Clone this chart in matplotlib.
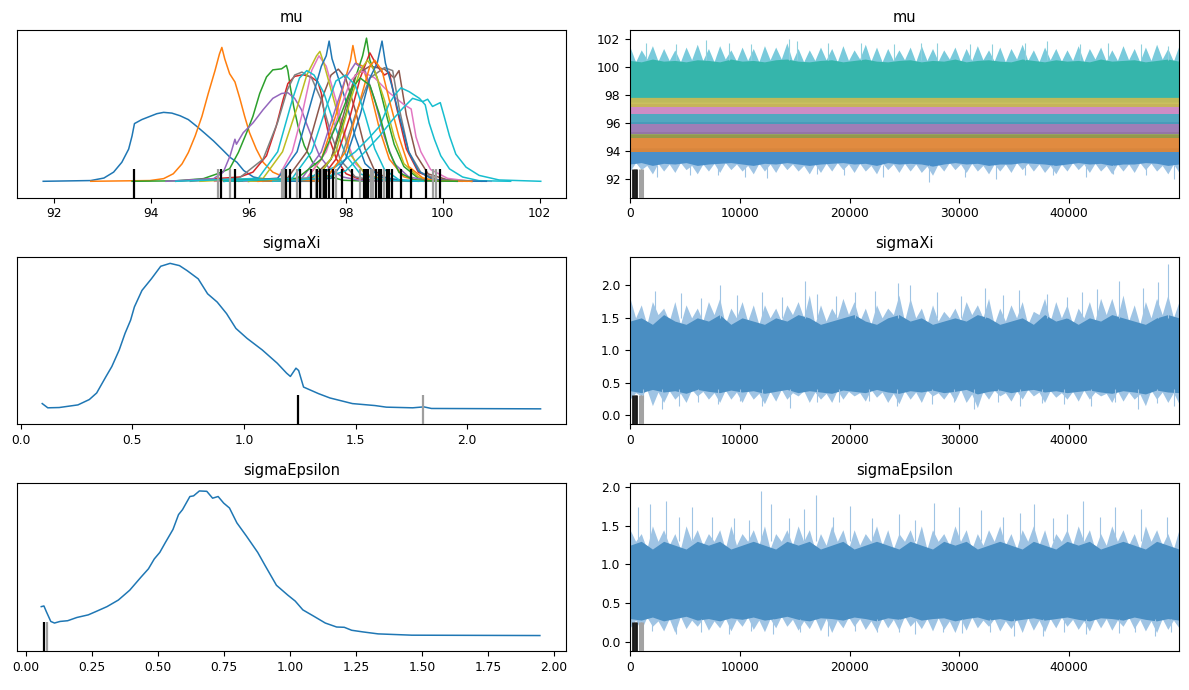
import numpy as np
import matplotlib
matplotlib.use("Agg")
import matplotlib.pyplot as plt
from matplotlib.transforms import blended_transform_factory

# ------------------------------------------------------------------ data
panel_titles = ["mu", "sigmaXi", "sigmaEpsilon"]

# --- mu: one KDE curve per component (x, density)
mu_curve_colors = ["C0", "C1", "C2", "C3", "C4", "C5", "C6", "C7", "C8", "C9",
                   "C0", "C1", "C2", "C3", "C4", "C5", "C6", "C7", "C8", "C9",
                   "C0", "C1", "C2", "C9", "C9"]
mu_curve_x = [
    [91.77, 92.75, 93.02, 93.22, 93.39, 93.53, 93.60, 93.65, 93.70, 93.80, 93.97, 94.11, 94.25, 94.42,
     94.59, 94.76, 94.93, 95.10, 95.28, 95.45, 95.62, 95.76, 95.90, 96.10, 96.50, 97.00, 97.60],
    [92.75, 93.97, 94.25, 94.45, 94.63, 94.76, 94.90, 95.04, 95.17, 95.31, 95.40, 95.45, 95.51, 95.61,
     95.72, 95.82, 95.92, 96.02, 96.16, 96.30, 96.50, 96.78, 97.11, 97.60],
    [93.60, 94.50, 95.07, 95.35, 95.61, 95.79, 95.96, 96.09, 96.23, 96.37, 96.50, 96.68, 96.78, 96.81,
     96.86, 96.93, 97.02, 97.15, 97.32, 97.60, 97.94, 98.50],
    [94.50, 95.82, 96.09, 96.37, 96.57, 96.71, 96.81, 96.95, 97.12, 97.29, 97.43, 97.50, 97.57, 97.67,
     97.81, 98.01, 98.29, 98.80],
    [94.30, 95.28, 95.48, 95.62, 95.72, 95.75, 95.89, 96.09, 96.30, 96.50, 96.68, 96.81, 96.95, 97.09,
     97.19, 97.32, 97.46, 97.67, 97.94, 98.29, 98.80],
    [95.5, 96.8, 97.2, 97.5, 97.7, 97.85, 98.0, 98.2, 98.4, 98.6, 98.9, 99.8],
    [95.3, 96.6, 96.9, 97.1, 97.3, 97.45, 97.6, 97.8, 98.0, 98.2, 98.5, 98.9, 99.6],
    [94.8, 95.8, 96.3, 96.6, 96.8, 96.95, 97.1, 97.3, 97.5, 97.7, 97.9, 98.2, 98.6, 99.3],
    [95.0, 96.3, 96.7, 97.0, 97.2, 97.4, 97.47, 97.55, 97.7, 97.9, 98.1, 98.4, 98.8, 99.5],
    [94.5, 96.2, 96.6, 96.9, 97.05, 97.2, 97.35, 97.55, 97.75, 98.0, 98.3, 98.7, 99.5],
    [95.5, 96.6, 97.0, 97.3, 97.5, 97.6, 97.66, 97.72, 97.85, 98.0, 98.2, 98.4, 98.7, 99.2, 100.0],
    [95.8, 97.2, 97.5, 97.8, 98.0, 98.1, 98.15, 98.22, 98.35, 98.5, 98.7, 98.9, 99.2, 99.5, 100.3],
    [96.0, 97.4, 97.7, 98.0, 98.2, 98.35, 98.43, 98.5, 98.65, 98.8, 99.0, 99.2, 99.5, 99.8, 100.6],
    [96.0, 97.5, 97.8, 98.1, 98.3, 98.5, 98.65, 98.8, 98.9, 99.05, 99.25, 99.5, 99.9, 100.6],
    [95.8, 97.1, 97.5, 97.8, 98.0, 98.2, 98.4, 98.6, 98.8, 99.0, 99.3, 99.7, 100.4],
    [96.0, 97.3, 97.7, 98.0, 98.2, 98.5, 98.8, 99.0, 99.1, 99.25, 99.45, 99.7, 100.1, 100.8],
    [95.9, 97.2, 97.6, 97.9, 98.1, 98.3, 98.6, 98.9, 99.2, 99.35, 99.45, 99.55, 99.75, 100.1, 100.5, 101.0],
    [96.2, 97.6, 97.9, 98.2, 98.5, 98.8, 98.97, 99.1, 99.3, 99.55, 99.9, 100.6],
    [96.0, 97.4, 97.8, 98.1, 98.3, 98.45, 98.6, 98.8, 99.0, 99.2, 99.5, 99.8, 100.5],
    [95.5, 97.2, 97.8, 98.2, 98.5, 98.70, 98.90, 99.04, 99.14, 99.31, 99.52, 99.64, 99.72, 99.83,
     99.96, 100.14, 100.41, 100.75, 101.4],
    [96.3, 97.7, 98.0, 98.3, 98.5, 98.65, 98.75, 98.82, 98.95, 99.1, 99.3, 99.5, 99.8, 100.2, 100.9],
    [96.2, 97.6, 98.0, 98.3, 98.5, 98.6, 98.75, 98.9, 99.1, 99.3, 99.6, 99.9, 100.6],
    [95.5, 97.0, 97.5, 97.9, 98.1, 98.3, 98.5, 98.7, 98.9, 99.1, 99.4, 99.8, 100.3],
    [95.5, 96.9, 97.3, 97.6, 97.8, 98.0, 98.2, 98.4, 98.6, 98.8, 99.1, 99.6],
    [96.5, 97.5, 98.0, 98.4, 98.70, 98.97, 99.18, 99.38, 99.59, 99.69, 99.79, 99.95, 100.03, 100.14,
     100.27, 100.48, 100.75, 101.16, 102.02],
]
mu_curve_h = [
    [0, 0.005, 0.022, 0.062, 0.129, 0.218, 0.307, 0.391, 0.400, 0.418, 0.440, 0.458, 0.467, 0.462,
     0.444, 0.418, 0.373, 0.325, 0.273, 0.218, 0.162, 0.129, 0.073, 0.029, 0.003, 0, 0],
    [0, 0.005, 0.018, 0.051, 0.118, 0.195, 0.307, 0.440, 0.595, 0.751, 0.862, 0.907, 0.829, 0.729,
     0.673, 0.562, 0.440, 0.329, 0.218, 0.129, 0.062, 0.022, 0.005, 0],
    [0, 0.003, 0.018, 0.050, 0.085, 0.195, 0.329, 0.440, 0.595, 0.707, 0.755, 0.762, 0.785, 0.751,
     0.640, 0.507, 0.373, 0.240, 0.129, 0.040, 0.007, 0],
    [0, 0.029, 0.062, 0.173, 0.373, 0.551, 0.662, 0.711, 0.722, 0.707, 0.673, 0.595, 0.440, 0.285,
     0.151, 0.051, 0.013, 0],
    [0, 0.018, 0.062, 0.173, 0.285, 0.251, 0.329, 0.395, 0.485, 0.562, 0.595, 0.600, 0.562, 0.485,
     0.395, 0.285, 0.173, 0.085, 0.029, 0.007, 0],
    [0, 0.02, 0.2, 0.55, 0.72, 0.76, 0.7, 0.48, 0.22, 0.07, 0.01, 0],
    [0, 0.02, 0.2, 0.45, 0.75, 0.85, 0.78, 0.55, 0.3, 0.12, 0.03, 0.005, 0],
    [0, 0.02, 0.15, 0.4, 0.62, 0.72, 0.74, 0.7, 0.55, 0.32, 0.14, 0.03, 0.005, 0],
    [0, 0.02, 0.2, 0.5, 0.72, 0.85, 0.88, 0.8, 0.62, 0.38, 0.18, 0.05, 0.01, 0],
    [0, 0.02, 0.2, 0.55, 0.7, 0.75, 0.72, 0.6, 0.4, 0.18, 0.05, 0.01, 0],
    [0, 0.02, 0.2, 0.55, 0.78, 0.85, 0.95, 0.83, 0.7, 0.55, 0.3, 0.12, 0.03, 0.005, 0],
    [0, 0.02, 0.15, 0.45, 0.7, 0.82, 0.92, 0.8, 0.78, 0.62, 0.35, 0.15, 0.03, 0.005, 0],
    [0, 0.02, 0.15, 0.45, 0.7, 0.85, 0.97, 0.82, 0.7, 0.5, 0.25, 0.1, 0.02, 0.005, 0],
    [0, 0.02, 0.15, 0.45, 0.7, 0.87, 0.78, 0.72, 0.74, 0.5, 0.22, 0.06, 0.01, 0],
    [0, 0.02, 0.2, 0.5, 0.7, 0.8, 0.75, 0.55, 0.3, 0.12, 0.03, 0.005, 0],
    [0, 0.02, 0.15, 0.5, 0.72, 0.78, 0.76, 0.7, 0.75, 0.45, 0.18, 0.05, 0.01, 0],
    [0, 0.02, 0.2, 0.5, 0.68, 0.75, 0.7, 0.6, 0.52, 0.49, 0.3, 0.2, 0.08, 0.02, 0.003, 0],
    [0, 0.02, 0.15, 0.45, 0.7, 0.77, 0.75, 0.5, 0.2, 0.06, 0.01, 0],
    [0, 0.02, 0.2, 0.55, 0.75, 0.82, 0.75, 0.55, 0.3, 0.12, 0.03, 0.005, 0],
    [0, 0.02, 0.1, 0.2, 0.3, 0.373, 0.529, 0.596, 0.633, 0.607, 0.562, 0.518, 0.396, 0.284,
     0.173, 0.084, 0.029, 0.004, 0],
    [0, 0.02, 0.15, 0.45, 0.7, 0.8, 0.95, 0.8, 0.65, 0.45, 0.2, 0.07, 0.01, 0.002, 0],
    [0, 0.02, 0.2, 0.55, 0.78, 0.82, 0.75, 0.55, 0.3, 0.1, 0.02, 0.003, 0],
    [0, 0.02, 0.15, 0.45, 0.62, 0.7, 0.65, 0.45, 0.2, 0.06, 0.01, 0.002, 0],
    [0, 0.02, 0.2, 0.5, 0.68, 0.72, 0.65, 0.45, 0.22, 0.08, 0.01, 0],
    [0, 0.02, 0.07, 0.2, 0.307, 0.418, 0.496, 0.562, 0.540, 0.556, 0.507, 0.533, 0.440, 0.307,
     0.184, 0.096, 0.040, 0.009, 0],
]
mu_div_black = [93.63, 95.44, 95.72, 96.78, 96.85, 97.05, 97.29, 97.42, 97.47, 97.55, 97.60, 97.65,
                97.74, 97.93, 98.13, 98.38, 98.43, 98.47, 98.62, 98.68, 98.73, 98.85, 98.90, 98.95,
                99.15, 99.35, 99.66, 99.95]
mu_div_gray = [95.37, 95.62, 96.68, 96.73, 97.00, 97.38, 97.52, 97.80, 98.30, 98.52, 98.57, 98.80,
               99.80, 99.86]

# --- sigmaXi KDE
sigxi_x = [0.096, 0.121, 0.172, 0.256, 0.307, 0.340, 0.382, 0.408, 0.441, 0.467, 0.492, 0.509, 0.543,
           0.585, 0.627, 0.669, 0.711, 0.745, 0.795, 0.837, 0.880, 0.922, 0.964, 1.014, 1.082, 1.149,
           1.191, 1.208, 1.233, 1.245, 1.267, 1.334, 1.385, 1.486, 1.587, 1.638, 1.756, 1.806, 1.840, 2.329]
sigxi_h = [0.056, 0.011, 0.014, 0.042, 0.099, 0.169, 0.345, 0.451, 0.627, 0.803, 0.944, 1.085, 1.261,
           1.384, 1.518, 1.549, 1.525, 1.472, 1.384, 1.225, 1.137, 1.014, 0.856, 0.750, 0.627, 0.486,
           0.380, 0.345, 0.433, 0.408, 0.232, 0.162, 0.116, 0.056, 0.035, 0.018, 0.011, 0.021, 0.004, 0.0]
sigxi_div_black = [1.24]
sigxi_div_gray = [1.80]

# --- sigmaEpsilon KDE
sigeps_x = [0.057, 0.067, 0.076, 0.093, 0.107, 0.128, 0.157, 0.192, 0.235, 0.264, 0.306, 0.349, 0.392,
            0.435, 0.463, 0.485, 0.506, 0.527, 0.556, 0.577, 0.592, 0.606, 0.620, 0.634, 0.656, 0.684,
            0.706, 0.727, 0.748, 0.770, 0.798, 0.834, 0.877, 0.905, 0.948, 0.991, 1.019, 1.048, 1.091,
            1.133, 1.176, 1.205, 1.233, 1.276, 1.333, 1.461, 1.946]
sigeps_h = [0.400, 0.409, 0.332, 0.195, 0.173, 0.195, 0.205, 0.250, 0.286, 0.332, 0.400, 0.491, 0.627,
            0.809, 0.923, 1.059, 1.150, 1.286, 1.468, 1.673, 1.741, 1.832, 1.923, 1.932, 2.000, 1.995,
            1.900, 1.923, 1.832, 1.764, 1.559, 1.377, 1.150, 0.968, 0.695, 0.559, 0.477, 0.355, 0.264,
            0.173, 0.118, 0.114, 0.073, 0.050, 0.023, 0.005, 0.0]
sigeps_div_black = [0.066]
sigeps_div_gray = [0.080]

# --- traces: envelopes read at 50 evenly spaced draws
n_draws = 50000
draws = np.linspace(0, n_draws - 1, 50)
trace_div_black = [230, 590]
trace_div_dark = [440]
trace_div_gray = [930, 1070]

mu_light_hi = [101.4, 101.2, 101.5, 101.3, 101.2, 101.4, 101.6, 101.3, 101.5, 101.2,
               101.4, 101.3, 101.5, 101.4, 101.7, 101.3, 101.2, 101.4, 101.3, 101.5,
               101.2, 101.6, 101.4, 101.3, 101.2, 101.4, 101.5, 101.3, 101.2, 101.4,
               101.3, 101.5, 101.2, 101.4, 101.3, 101.6, 101.2, 101.4, 101.3, 101.2,
               101.5, 101.3, 101.4, 101.2, 101.5, 101.3, 101.4, 101.6, 101.3, 101.5]
mu_dense_hi = [100.45, 100.35, 100.55, 100.40, 100.45, 100.35, 100.50, 100.45, 100.35, 100.55,
               100.40, 100.45, 100.35, 100.50, 100.55, 100.40, 100.35, 100.45, 100.50, 100.35,
               100.45, 100.55, 100.40, 100.35, 100.45, 100.50, 100.35, 100.45, 100.40, 100.55,
               100.35, 100.45, 100.50, 100.40, 100.35, 100.55, 100.45, 100.35, 100.50, 100.40,
               100.45, 100.35, 100.55, 100.40, 100.45, 100.50, 100.35, 100.45, 100.55, 100.40]
mu_dense_lo = [93.10, 93.20, 93.00, 93.15, 93.10, 93.20, 93.00, 93.10, 93.15, 93.20,
               93.10, 93.00, 93.15, 93.10, 93.20, 93.10, 93.00, 93.10, 93.15, 93.20,
               93.10, 93.15, 93.00, 93.20, 93.10, 93.15, 93.10, 92.95, 93.10, 93.20,
               93.10, 93.15, 93.00, 93.10, 93.10, 93.20, 93.15, 93.10, 93.00, 93.10,
               93.20, 93.10, 93.15, 93.00, 93.10, 93.10, 93.20, 93.15, 93.00, 93.10]
mu_light_lo = [92.6, 92.7, 92.4, 92.6, 92.5, 92.7, 92.4, 92.6, 92.5, 92.7,
               92.6, 92.4, 92.6, 92.5, 92.7, 92.6, 92.4, 92.5, 92.6, 92.7,
               92.5, 92.6, 92.4, 92.7, 92.5, 92.6, 92.5, 92.3, 92.6, 92.7,
               92.5, 92.6, 92.4, 92.6, 92.5, 92.7, 92.6, 92.5, 92.4, 92.6,
               92.7, 92.5, 92.6, 92.4, 92.6, 92.5, 92.7, 92.6, 92.4, 92.5]
mu_band_lo = [93.98, 94.95, 95.26, 95.96, 96.66, 97.13]
mu_band_hi = [95.14, 95.40, 96.08, 96.66, 97.36, 97.94]
mu_band_colors = ["#e9852e", "#8a9a4e", "#9470b0", "#3f9fba", "#c980bf", "#c6b94c"]
mu_spike_up_x = [1500, 4200, 6900, 9000, 11000, 14500, 15200, 18000, 21000, 24000, 26500, 28000,
                 31000, 33000, 36000, 38000, 41000, 43500, 46500, 49000]
mu_spike_up_y = [101.7, 101.6, 101.9, 101.7, 101.6, 102.0, 101.8, 101.7, 101.7, 101.6, 101.7, 101.7,
                 101.6, 101.6, 101.7, 101.8, 101.6, 101.7, 101.6, 101.5]
mu_spike_dn_x = [2500, 5500, 8000, 10500, 12500, 17000, 19500, 23000, 27200, 30500, 33300, 36000,
                 38500, 41500, 44000, 47000, 49500]
mu_spike_dn_y = [92.2, 92.3, 92.3, 92.2, 92.1, 92.4, 92.3, 92.2, 91.8, 92.2, 92.0, 92.3, 92.3,
                 92.2, 92.4, 92.3, 92.0]

xi_light_hi = [1.80, 1.70, 1.75, 1.65, 1.75, 1.70, 1.65, 1.75, 1.80, 1.65,
               1.75, 1.70, 1.70, 1.65, 1.70, 1.75, 1.85, 1.70, 1.65, 1.80,
               1.75, 1.65, 1.70, 1.65, 1.85, 1.80, 1.65, 1.70, 1.60, 1.65,
               1.75, 1.70, 1.80, 1.65, 1.70, 1.75, 1.60, 1.80, 1.75, 1.70,
               1.65, 1.75, 1.80, 1.80, 1.85, 1.70, 1.75, 1.80, 1.85, 1.75]
xi_dense_hi = [1.45, 1.50, 1.40, 1.55, 1.45, 1.40, 1.50, 1.45, 1.55, 1.40,
               1.50, 1.45, 1.40, 1.50, 1.45, 1.55, 1.50, 1.40, 1.45, 1.50,
               1.55, 1.45, 1.40, 1.50, 1.55, 1.45, 1.50, 1.40, 1.45, 1.50,
               1.45, 1.55, 1.50, 1.40, 1.45, 1.50, 1.40, 1.55, 1.45, 1.50,
               1.40, 1.50, 1.45, 1.55, 1.50, 1.45, 1.40, 1.50, 1.55, 1.50]
xi_dense_lo = [0.38, 0.35, 0.40, 0.36, 0.38, 0.34, 0.40, 0.37, 0.35, 0.39,
               0.36, 0.38, 0.34, 0.37, 0.40, 0.35, 0.38, 0.36, 0.34, 0.39,
               0.37, 0.35, 0.40, 0.36, 0.34, 0.38, 0.36, 0.39, 0.35, 0.37,
               0.40, 0.33, 0.37, 0.39, 0.35, 0.38, 0.40, 0.36, 0.38, 0.35,
               0.37, 0.39, 0.36, 0.34, 0.38, 0.36, 0.33, 0.39, 0.36, 0.35]
xi_light_lo = [0.25, 0.30, 0.15, 0.20, 0.25, 0.20, 0.30, 0.25, 0.20, 0.25,
               0.20, 0.25, 0.18, 0.22, 0.25, 0.30, 0.20, 0.25, 0.20, 0.25,
               0.30, 0.22, 0.28, 0.20, 0.18, 0.25, 0.20, 0.30, 0.25, 0.22,
               0.20, 0.12, 0.25, 0.30, 0.22, 0.25, 0.30, 0.20, 0.28, 0.25,
               0.22, 0.25, 0.30, 0.20, 0.22, 0.25, 0.15, 0.25, 0.20, 0.18]
xi_spike_up_x = [0, 2300, 4600, 6500, 8200, 9700, 12000, 13800, 15900, 17000, 18800, 20500, 22300,
                 24400, 25500, 28000, 30100, 32300, 34000, 35400, 38000, 39800, 41200, 42500, 44500,
                 46700, 48100, 49000]
xi_spike_up_y = [1.98, 1.92, 1.88, 1.80, 2.00, 1.85, 1.90, 1.82, 2.07, 1.86, 1.84, 1.90, 1.92,
                 2.03, 2.00, 1.90, 1.84, 1.96, 1.85, 1.93, 1.87, 1.82, 1.90, 1.95, 2.07,
                 1.96, 2.05, 2.33]
xi_spike_dn_x = [1200, 2900, 4500, 6200, 8000, 10000, 12000, 14600, 17000, 19000, 21800, 24300,
                 27500, 29500, 31300, 33500, 35500, 37500, 39500, 42000, 44200, 46300, 48000, 49500]
xi_spike_dn_y = [0.20, 0.10, 0.15, 0.20, 0.18, 0.22, 0.15, 0.12, 0.20, 0.20, 0.22, 0.15,
                 0.18, 0.21, 0.10, 0.20, 0.14, 0.19, 0.18, 0.15, 0.20, 0.10, 0.19, 0.15]

eps_light_hi = [1.45, 1.40, 1.50, 1.45, 1.40, 1.50, 1.45, 1.40, 1.45, 1.50,
                1.40, 1.45, 1.50, 1.40, 1.45, 1.50, 1.45, 1.40, 1.50, 1.45,
                1.45, 1.40, 1.50, 1.45, 1.40, 1.45, 1.50, 1.45, 1.40, 1.50,
                1.45, 1.40, 1.45, 1.50, 1.40, 1.45, 1.50, 1.45, 1.40, 1.45,
                1.50, 1.45, 1.40, 1.50, 1.45, 1.40, 1.50, 1.45, 1.40, 1.45]
eps_dense_hi = [1.25, 1.30, 1.20, 1.30, 1.25, 1.20, 1.30, 1.25, 1.30, 1.20,
                1.25, 1.30, 1.25, 1.20, 1.30, 1.25, 1.30, 1.20, 1.25, 1.30,
                1.20, 1.25, 1.30, 1.25, 1.20, 1.30, 1.25, 1.20, 1.30, 1.25,
                1.30, 1.20, 1.25, 1.30, 1.25, 1.20, 1.30, 1.25, 1.20, 1.30,
                1.25, 1.30, 1.20, 1.25, 1.30, 1.25, 1.20, 1.30, 1.25, 1.20]
eps_dense_lo = [0.30, 0.28, 0.32, 0.27, 0.30, 0.33, 0.28, 0.30, 0.27, 0.31,
                0.29, 0.32, 0.28, 0.30, 0.33, 0.29, 0.27, 0.31, 0.30, 0.28,
                0.32, 0.30, 0.27, 0.31, 0.29, 0.33, 0.28, 0.30, 0.31, 0.27,
                0.30, 0.32, 0.28, 0.30, 0.27, 0.29, 0.31, 0.28, 0.30, 0.32,
                0.29, 0.27, 0.31, 0.30, 0.28, 0.32, 0.29, 0.27, 0.30, 0.28]
eps_light_lo = [0.18, 0.15, 0.20, 0.14, 0.12, 0.17, 0.20, 0.15, 0.18, 0.14,
                0.20, 0.16, 0.13, 0.18, 0.20, 0.15, 0.17, 0.14, 0.12, 0.18,
                0.20, 0.16, 0.14, 0.18, 0.15, 0.20, 0.17, 0.14, 0.16, 0.12,
                0.15, 0.18, 0.20, 0.14, 0.17, 0.12, 0.15, 0.13, 0.18, 0.20,
                0.16, 0.14, 0.18, 0.15, 0.20, 0.17, 0.14, 0.12, 0.16, 0.18]
eps_spike_up_x = [700, 1800, 3300, 4500, 5600, 7500, 9500, 10800, 11900, 12800, 14500, 15800, 16900,
                  18500, 20000, 22000, 24500, 26000, 27700, 30000, 32000, 34000, 35500, 36800, 38500,
                  39800, 41300, 42800, 44200, 46500, 48900]
eps_spike_up_y = [1.75, 1.78, 1.82, 1.62, 1.75, 1.62, 1.60, 1.58, 1.95, 1.78, 1.60, 1.72, 1.90,
                  1.62, 1.76, 1.60, 1.65, 1.58, 1.80, 1.75, 1.70, 1.62, 1.66, 1.78, 1.60,
                  1.65, 1.82, 1.62, 1.74, 1.72, 1.62]
eps_spike_dn_x = [2000, 4200, 6500, 9000, 11000, 13000, 15500, 18000, 20500, 22500, 24500, 26000,
                  28500, 30200, 32800, 35000, 37600, 39500, 41500, 44500, 46000, 47800, 49300]
eps_spike_dn_y = [0.14, 0.10, 0.13, 0.10, 0.14, 0.10, 0.13, 0.08, 0.14, 0.12, 0.13, 0.10,
                  0.13, 0.11, 0.13, 0.07, 0.08, 0.12, 0.10, 0.11, 0.13, 0.07, 0.12]

# ------------------------------------------------------------------ figure
TICK = 8.8
TITLE = 10.5
plt.rcParams["font.family"] = ["DejaVu Sans"]

fig, axes = plt.subplots(3, 2, figsize=(11.89, 6.9), dpi=100)
fig.subplots_adjust(left=0.0143, right=0.9916, bottom=0.0565, top=0.9565,
                    wspace=0.1166, hspace=0.352)

RUG_H = 0.173


def rug(ax, xs, color):
    tr = blended_transform_factory(ax.transData, ax.transAxes)
    ax.vlines(xs, 0, RUG_H, transform=tr, colors=color, lw=1.6, zorder=5)


# ---- left column: KDEs
ax = axes[0, 0]
for c, xs, hs in zip(mu_curve_colors, mu_curve_x, mu_curve_h):
    ax.plot(xs, hs, color=c, lw=1.1)
rug(ax, mu_div_gray, "#9e9e9e")
rug(ax, mu_div_black, "black")
ax.set_xlim(91.23, 102.54)
ax.set_ylim(-0.111, 1.025)

ax = axes[1, 0]
ax.plot(sigxi_x, sigxi_h, color="C0", lw=1.1)
rug(ax, sigxi_div_gray, "#9e9e9e")
rug(ax, sigxi_div_black, "black")
ax.set_xlim(-0.017, 2.443)
ax.set_ylim(-0.165, 1.620)

ax = axes[2, 0]
ax.plot(sigeps_x, sigeps_h, color="C0", lw=1.1)
rug(ax, sigeps_div_black, "black")
rug(ax, sigeps_div_gray, "#9e9e9e")
ax.set_xlim(-0.035, 2.045)
ax.set_ylim(-0.214, 2.105)

for a in axes[:, 0]:
    a.set_yticks([])

# ---- right column: traces
light_blue = "#9fc4e4"
dense_blue = "#4a8ec2"
x_zig = np.linspace(0, n_draws - 1, 2 * len(draws) - 1)


def zig(peaks, valleys):
    """Polygon edge that alternates between read-off spike tops and the dense edge."""
    out = np.empty(2 * len(peaks) - 1)
    out[0::2] = peaks
    out[1::2] = np.asarray(valleys)[1:]
    return out


def trace_divs(ax):
    tr = blended_transform_factory(ax.transData, ax.transAxes)
    ax.vlines(trace_div_gray, 0, RUG_H, transform=tr, colors="#a3a3a3", lw=2.2, zorder=5)
    ax.vlines(trace_div_dark, 0, RUG_H, transform=tr, colors="#555555", lw=2.0, zorder=5)
    ax.vlines(trace_div_black, 0, RUG_H, transform=tr, colors="#1a1a1a", lw=2.0, zorder=5)


ax = axes[0, 1]
ax.vlines(mu_spike_dn_x, 93.0, mu_spike_dn_y, colors=light_blue, lw=0.8)
ax.vlines(mu_spike_up_x, 100.5, mu_spike_up_y, colors="#8fd0dc", lw=0.8)
ax.fill_between(x_zig, zig(mu_light_lo, mu_dense_lo), 95.0, color=light_blue, lw=0)
ax.fill_between(draws, mu_dense_lo, 94.25, color="#4a8fca", lw=0)
ax.fill_between(x_zig, 97.5, zig(mu_light_hi, mu_dense_hi), color="#79cadb", lw=0)
for lo, hi, c in zip(mu_band_lo, mu_band_hi, mu_band_colors):
    ax.fill_between(draws, lo, hi, color=c, lw=0, alpha=0.9)
ax.fill_between(draws, 97.83, mu_dense_hi, color="#35b5ab", lw=0)
trace_divs(ax)
ax.set_ylim(90.71, 102.61)

ax = axes[1, 1]
ax.vlines(xi_spike_up_x, 1.5, xi_spike_up_y, colors=light_blue, lw=0.8)
ax.vlines(xi_spike_dn_x, xi_spike_dn_y, 0.4, colors=light_blue, lw=0.8)
ax.fill_between(x_zig, zig(xi_light_lo, xi_dense_lo), zig(xi_light_hi, xi_dense_hi),
                color=light_blue, lw=0)
ax.fill_between(draws, xi_dense_lo, xi_dense_hi, color=dense_blue, lw=0)
trace_divs(ax)
ax.set_ylim(-0.137, 2.44)

ax = axes[2, 1]
ax.vlines(eps_spike_up_x, 1.3, eps_spike_up_y, colors=light_blue, lw=0.8)
ax.vlines(eps_spike_dn_x, eps_spike_dn_y, 0.3, colors=light_blue, lw=0.8)
ax.fill_between(x_zig, zig(eps_light_lo, eps_dense_lo), zig(eps_light_hi, eps_dense_hi),
                color=light_blue, lw=0)
ax.fill_between(draws, eps_dense_lo, eps_dense_hi, color=dense_blue, lw=0)
trace_divs(ax)
ax.set_ylim(-0.12, 2.05)

for a in axes[:, 1]:
    a.set_xlim(0, n_draws - 1)

for i, t in enumerate(panel_titles):
    for j in range(2):
        axes[i, j].set_title(t, fontsize=TITLE)
        axes[i, j].tick_params(labelsize=TICK)

fig.savefig("out.png", dpi=100)
